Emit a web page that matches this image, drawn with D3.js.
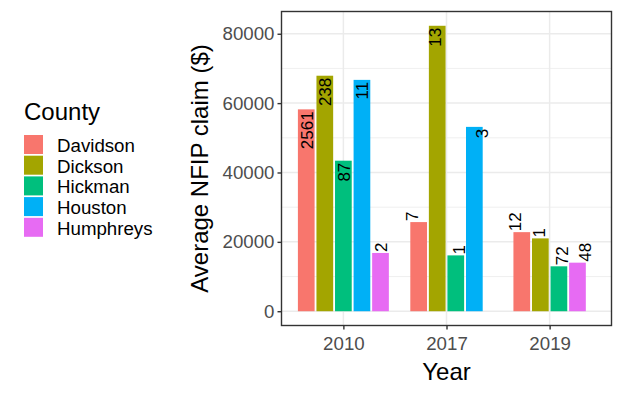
<!DOCTYPE html>
<html><head><meta charset="utf-8">
<script src="https://cdn.jsdelivr.net/npm/d3@7"></script>
<style>body{margin:0;background:#fff}svg{display:block}text{font-family:"Liberation Sans",Arial,sans-serif}</style>
</head><body>
<svg id="c" width="624" height="398"></svg>
<script>
const years = ["2010", "2017", "2019"];
const counties = ["Davidson", "Dickson", "Hickman", "Houston", "Humphreys"];
const colors = ["#F8766D", "#A3A500", "#00BF7D", "#00B0F6", "#E76BF3"];
// average claim per county, by year (null = no data)
const davidson  = [58200, 25700, 22800];
const dickson   = [67900, 82300, 21000];
const hickman   = [43400, 16100, 12950];
const houston   = [66700, 53150, null];
const humphreys = [16800, null, 14000];
// number of claims (bar labels)
const davidsonN  = [2561, 7, 12];
const dicksonN   = [238, 13, 1];
const hickmanN   = [87, 1, 72];
const houstonN   = [11, 3, null];
const humphreysN = [2, null, 48];
const yTicks = [0, 20000, 40000, 60000, 80000];
const yMinor = [10000, 30000, 50000, 70000];

const values = [davidson, dickson, hickman, houston, humphreys];
const counts = [davidsonN, dicksonN, hickmanN, houstonN, humphreysN];

const svg = d3.select("#c");
const P = {l: 281.5, r: 611.5, t: 11.5, b: 325.5};

const maxV = d3.max(values.flat().filter(v => v != null));
const y = d3.scaleLinear().domain([-0.05 * maxV, maxV * 1.05]).range([P.b, P.t]);
const x = d3.scalePoint().domain(years).range([P.l, P.r]).padding(0.6);
const step = x.step();

// panel background & grid
const g = svg.append("g");
g.append("rect").attr("x", P.l).attr("y", P.t).attr("width", P.r - P.l).attr("height", P.b - P.t).attr("fill", "#fff");
g.selectAll(".ymin").data(yMinor).join("line")
  .attr("x1", P.l).attr("x2", P.r).attr("y1", d => y(d)).attr("y2", d => y(d))
  .attr("stroke", "#EBEBEB").attr("stroke-width", 0.8);
g.selectAll(".ymaj").data(yTicks).join("line")
  .attr("x1", P.l).attr("x2", P.r).attr("y1", d => y(d)).attr("y2", d => y(d))
  .attr("stroke", "#EBEBEB").attr("stroke-width", 1.5);
g.selectAll(".xmaj").data(years).join("line")
  .attr("y1", P.t).attr("y2", P.b).attr("x1", d => x(d)).attr("x2", d => x(d))
  .attr("stroke", "#EBEBEB").attr("stroke-width", 1.5);

// bars
const slot = 0.9 * step / counties.length;
const barW = slot * 0.9;
const bars = [];
years.forEach((yr, yi) => {
  const present = counties.map((c, ci) => ci).filter(ci => values[ci][yi] != null);
  const n = present.length;
  present.forEach((ci, k) => {
    bars.push({
      yr, ci, v: values[ci][yi], n: counts[ci][yi],
      cx: x(yr) + (k - (n - 1) / 2) * slot,
      lx: x(yr) + (k - (n - 1) / 2) * (0.9 * step / n)
    });
  });
});
svg.append("g").selectAll("rect").data(bars).join("rect")
  .attr("x", d => d.cx - barW / 2).attr("width", barW)
  .attr("y", d => y(d.v)).attr("height", d => y(0) - y(d.v))
  .attr("fill", d => colors[d.ci]);

const inside = 40000;
svg.append("g").selectAll("text").data(bars).join("text")
  .attr("transform", d => `translate(${d.lx + 1},${y(d.v) + (d.v > inside ? 2 : -1)}) rotate(-90)`)
  .attr("text-anchor", d => d.v > inside ? "end" : "start")
  .attr("dominant-baseline", "central")
  .attr("font-size", 17).attr("fill", "#000")
  .text(d => d.n);

// panel border
svg.append("rect").attr("x", P.l).attr("y", P.t).attr("width", P.r - P.l).attr("height", P.b - P.t)
  .attr("fill", "none").attr("stroke", "#333333").attr("stroke-width", 1.4);

// axes
const ya = svg.append("g").attr("transform", `translate(${P.l},0)`)
  .call(d3.axisLeft(y).tickValues(yTicks).tickSize(4).tickPadding(3).tickFormat(d3.format("d")));
ya.select(".domain").remove();
ya.selectAll(".tick line").attr("stroke", "#333333").attr("stroke-width", 1.4);
ya.selectAll(".tick text").attr("fill", "#4D4D4D").attr("font-size", 18.7).attr("font-family", "Liberation Sans, Arial, sans-serif");

const xa = svg.append("g").attr("transform", `translate(0,${P.b})`)
  .call(d3.axisBottom(x).tickSize(4).tickPadding(7));
xa.select(".domain").remove();
xa.selectAll(".tick line").attr("stroke", "#333333").attr("stroke-width", 1.4);
xa.selectAll(".tick text").attr("fill", "#4D4D4D").attr("font-size", 18.7).attr("font-family", "Liberation Sans, Arial, sans-serif");

// axis titles
svg.append("text").attr("x", (P.l + P.r) / 2).attr("y", 380).attr("text-anchor", "middle")
  .attr("font-size", 24).attr("fill", "#000").text("Year");
svg.append("text").attr("transform", `translate(208,${(P.t + P.b) / 2}) rotate(-90)`).attr("text-anchor", "middle")
  .attr("font-size", 24).attr("fill", "#000").text("Average NFIP claim ($)");

// legend
const lg = svg.append("g");
lg.append("text").attr("x", 24).attr("y", 120).attr("font-size", 24).attr("fill", "#000").text("County");
const rows = lg.selectAll("g.k").data(counties).join("g").attr("transform", (d, i) => `translate(24,${135 + i * 20.7})`);
rows.append("rect").attr("width", 19).attr("height", 19).attr("fill", (d, i) => colors[i]);
rows.append("text").attr("x", 33).attr("y", 10.5).attr("dominant-baseline", "central")
  .attr("font-size", 18.7).attr("fill", "#000").text(d => d);
</script>
</body></html>
